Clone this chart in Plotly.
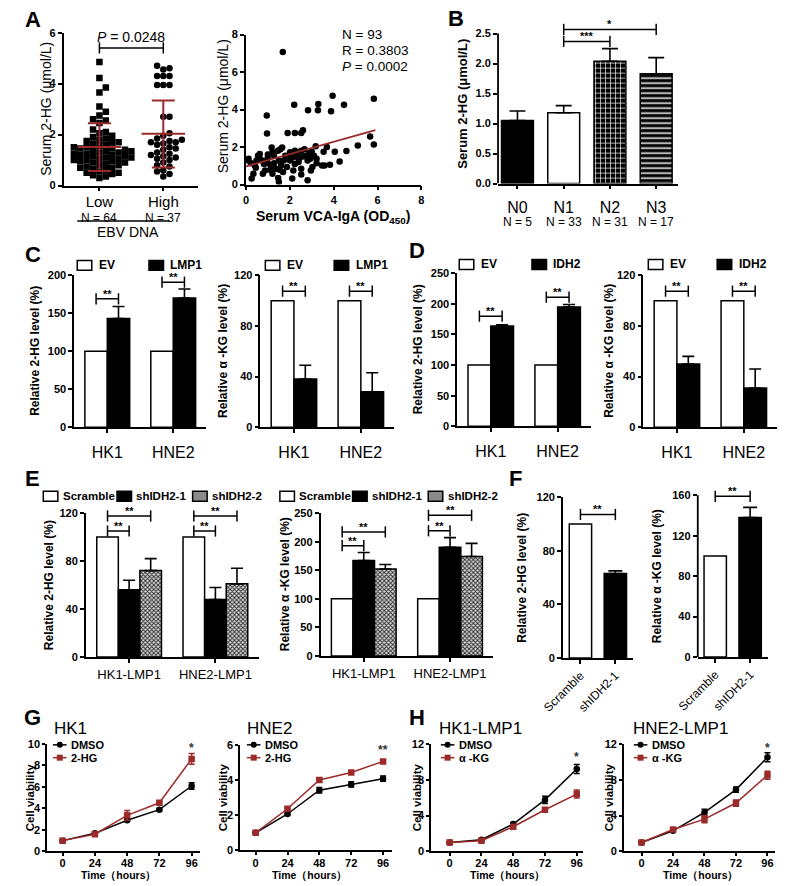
import numpy as np
import plotly.graph_objects as go

W, H = 789, 886
FONT = "Liberation Sans, Arial, sans-serif"
RED = "#9b2b2b"
AXW = 1.8

# ===================== DATA =====================
# A (left): serum 2-HG by EBV DNA level
ebv_groups = ["Low", "High"]
ebv_n_labels = ["N = 64", "N = 37"]
ebv_low = [4.85, 4.22, 3.85, 3.65, 3.10, 2.90, 2.75, 2.60, 2.55, 2.45,
           2.20, 2.10, 2.05, 1.95, 1.90, 1.85, 1.80, 1.75, 1.70, 1.70,
           1.65, 1.60, 1.55, 1.50, 1.50, 1.45, 1.45, 1.40, 1.40, 1.35,
           1.35, 1.30, 1.30, 1.25, 1.25, 1.20, 1.20, 1.15, 1.15, 1.10,
           1.10, 1.05, 1.05, 1.00, 1.00, 0.95, 0.95, 0.90, 0.90, 0.85,
           0.80, 0.80, 0.75, 0.70, 0.70, 0.65, 0.60, 0.55, 0.50, 0.50,
           0.45, 0.40, 0.35, 0.30]
ebv_high = [4.70, 4.60, 4.55, 4.30, 4.30, 4.30, 3.95, 3.95, 3.95, 2.70,
            2.70, 2.05, 1.95, 1.85, 1.80, 1.75, 1.70, 1.70, 1.65, 1.60,
            1.50, 1.45, 1.40, 1.30, 1.25, 1.20, 1.15, 1.10, 1.05, 1.00,
            0.90, 0.80, 0.75, 0.60, 0.55, 0.45, 0.35]
ebv_mean = [1.51, 2.03]
ebv_sd_lo = [0.57, 0.71]
ebv_sd_hi = [2.44, 3.34]
ebv_p = "0.0248"
ebv_bracket_y = 5.4

# A (right): serum 2-HG vs VCA-IgA
vca_x = [1.68, 5.83, 3.95, 2.20, 3.30, 4.47, 2.83, 3.28, 3.88, 0.95,
         0.96, 1.90, 2.23, 2.52, 2.60, 5.66, 5.83, 5.10, 4.58, 4.05,
         3.69, 3.54, 3.18, 3.00, 2.89, 2.67, 2.52, 2.23, 2.01, 1.65,
         1.57, 1.46, 1.17, 1.21, 0.63, 0.55, 0.12, 0.23, 0.41, 0.73,
         0.99, 0.99, 1.14, 1.28, 1.35, 1.50, 1.60, 1.72, 1.87, 2.01,
         2.16, 2.33, 2.42, 2.60, 2.23, 2.16, 2.52, 1.87, 1.69, 1.53,
         1.21, 0.87, 0.77, 0.34, 0.26, 1.47, 1.50, 2.11, 2.52, 2.81,
         2.96, 3.03, 3.22, 3.22, 3.47, 3.58, 3.83, 4.27, 2.81, 2.93,
         2.74, 3.10, 0.09, 0.63, 0.48, 1.28, 1.79, 1.94, 0.82, 1.11,
         2.40, 1.00, 0.45]
vca_y = [7.07, 4.58, 4.74, 4.26, 4.30, 4.26, 3.96, 3.96, 3.91, 3.68,
         2.72, 2.75, 2.75, 2.75, 2.90, 2.56, 2.14, 2.09, 1.79, 1.75,
         2.00, 1.75, 2.04, 1.75, 1.67, 1.89, 1.81, 1.81, 1.72, 1.98,
         1.89, 1.81, 1.98, 1.72, 1.63, 1.54, 1.37, 1.14, 1.02, 1.28,
         1.40, 1.14, 1.02, 1.14, 0.84, 1.28, 1.02, 1.28, 1.37, 1.28,
         1.46, 1.63, 1.37, 1.49, 1.10, 0.75, 0.84, 0.93, 0.67, 0.79,
         0.58, 0.75, 0.58, 0.58, 0.32, 0.35, 0.14, 0.32, 0.54, 0.23,
         0.75, 0.93, 1.37, 1.14, 1.02, 1.02, 1.05, 1.23, 1.28, 1.37,
         1.54, 1.54, 1.28, 1.37, 1.28, 1.54, 1.54, 1.46, 1.10, 0.79,
         1.20, 1.60, 0.90]
vca_fit_x = [0.0, 5.9]
vca_fit_y = [0.97, 2.90]
vca_stats = ["N = 93", "R = 0.3803", "<i>P</i> = 0.0002"]

# B: serum 2-HG by N stage
stage_cats = ["N0", "N1", "N2", "N3"]
stage_n = ["N = 5", "N = 33", "N = 31", "N = 17"]
stage_mean = [1.05, 1.18, 2.04, 1.83]
stage_err = [0.16, 0.12, 0.21, 0.27]
stage_brackets = [(1, 2, 2.37, "***"), (1, 3, 2.57, "*")]

# C / D
cells = ["HK1", "HNE2"]
c_2hg_ev = [100, 100]
c_2hg_lmp1 = [143, 170]
c_2hg_lmp1_err = [16, 12]
c_2hg_br = [169, 191]
c_akg_ev = [100, 100]
c_akg_lmp1 = [38, 28]
c_akg_lmp1_err = [11, 15]
c_akg_br = [107.5, 107.5]

d_2hg_ev = [100, 100]
d_2hg_idh2 = [164, 195]
d_2hg_idh2_err = [2, 4]
d_2hg_br = [180, 211]
d_akg_ev = [100, 100]
d_akg_idh2 = [50, 31]
d_akg_idh2_err = [6, 15]
d_akg_br = [107.5, 107.5]

# E
e_cells = ["HK1-LMP1", "HNE2-LMP1"]
e_groups = ["Scramble", "shIDH2-1", "shIDH2-2"]
e_2hg_scr = [100, 100]
e_2hg_sh1 = [56, 48]
e_2hg_sh1_err = [8, 10]
e_2hg_sh2 = [72, 61]
e_2hg_sh2_err = [10, 13]
e_2hg_br1 = [105, 105]
e_2hg_br2 = [117.5, 117.5]
e_akg_scr = [100, 100]
e_akg_sh1 = [167, 190]
e_akg_sh1_err = [14, 17]
e_akg_sh2 = [152, 174]
e_akg_sh2_err = [8, 23]
e_akg_br1 = [193, 219]
e_akg_br2 = [217, 246]

# F
f_groups = ["Scramble", "shIDH2-1"]
f_2hg = [100, 63]
f_2hg_err = [0, 2]
f_2hg_br = 107
f_akg = [100, 138]
f_akg_err = [0, 10]
f_akg_br = 159

# G / H
hours = [0, 24, 48, 72, 96]
g1_dmso = [1.0, 1.68, 2.90, 3.88, 6.08]
g1_dmso_err = [0.05, 0.10, 0.12, 0.12, 0.30]
g1_2hg = [1.0, 1.60, 3.35, 4.52, 8.60]
g1_2hg_err = [0.05, 0.10, 0.45, 0.12, 0.50]
g1_star = (96, 9.6, "*")
g2_dmso = [1.0, 2.07, 3.42, 3.75, 4.08]
g2_dmso_err = [0.03, 0.05, 0.15, 0.15, 0.15]
g2_2hg = [1.0, 2.37, 4.00, 4.43, 5.06]
g2_2hg_err = [0.03, 0.05, 0.10, 0.05, 0.08]
g2_star = (96, 5.7, "**")
h1_dmso = [1.0, 1.30, 3.05, 5.75, 9.20]
h1_dmso_err = [0.05, 0.10, 0.15, 0.40, 0.50]
h1_akg = [1.0, 1.20, 2.75, 4.65, 6.40]
h1_akg_err = [0.05, 0.10, 0.15, 0.15, 0.45]
h1_star = (96, 10.5, "*")
h2_dmso = [1.0, 2.30, 4.35, 6.90, 10.50]
h2_dmso_err = [0.05, 0.15, 0.35, 0.30, 0.50]
h2_akg = [1.0, 2.45, 3.60, 5.40, 8.50]
h2_akg_err = [0.05, 0.20, 0.40, 0.35, 0.45]
h2_star = (96, 11.5, "*")

# ===================== FIGURE =====================
fig = go.Figure()
layout_axes = {}
shapes = []
annotations = []

TICKB = dict(family=FONT, size=11, color="black", weight="bold")


def ids(i):
    return ("x" if i == 1 else f"x{i}", "y" if i == 1 else f"y{i}",
            "xaxis" if i == 1 else f"xaxis{i}", "yaxis" if i == 1 else f"yaxis{i}")


def make_axes(i, xdom, xrange, ybot, ppu, yrange, ytickvals, ytop,
              xtickvals=None, xticktext=None, xtickfont=None, xtickangle=None,
              xstandoff=None, yformat=None, ticklen=4):
    xid, yid, xk, yk = ids(i)
    ytop_px = ybot - yrange[1] * ppu
    xa = dict(domain=[xdom[0] / W, xdom[1] / W], range=xrange, anchor=yid,
              showline=True, linecolor="black", linewidth=AXW, ticks="outside",
              ticklen=ticklen, tickwidth=1.5, tickcolor="black", showgrid=False,
              zeroline=False, tickfont=xtickfont or TICKB, fixedrange=True)
    if xtickvals is not None:
        xa["tickvals"] = xtickvals
    if xticktext is not None:
        xa["ticktext"] = xticktext
    if xtickangle is not None:
        xa["tickangle"] = xtickangle
    if xstandoff is not None:
        xa["ticklabelstandoff"] = xstandoff
    ya = dict(domain=[1 - ybot / H, 1 - ytop_px / H], range=yrange, anchor=xid,
              showline=(yrange[1] <= ytop), linecolor="black", linewidth=AXW,
              ticks="outside", ticklen=ticklen, tickwidth=1.5, tickcolor="black",
              showgrid=False, zeroline=False, tickfont=TICKB, tickvals=ytickvals,
              fixedrange=True)
    if yformat:
        ya["tickformat"] = yformat
    layout_axes[xk] = xa
    layout_axes[yk] = ya
    if yrange[1] > ytop:
        shapes.append(dict(type="line", xref=f"{xid} domain", yref=yid, x0=0, x1=0,
                           y0=0, y1=ytop, line=dict(color="black", width=AXW)))
    return xid, yid


def style_marker(style):
    line = dict(color="black", width=1.5)
    if style == "white":
        return dict(color="white", line=line)
    if style == "black":
        return dict(color="black", line=line)
    if style == "grid":
        return dict(color="black", line=line,
                    pattern=dict(shape="+", fillmode="replace", bgcolor="black",
                                 fgcolor="white", size=5, solidity=0.25))
    if style == "stripe":
        return dict(color="black", line=line,
                    pattern=dict(shape="-", fillmode="replace", bgcolor="black",
                                 fgcolor="white", size=5, solidity=0.3))
    return dict(color="#8a8a8a", line=line,
                pattern=dict(shape="x", fillmode="replace", bgcolor="#d8d8d8",
                             fgcolor="#2a2a2a", size=3, solidity=0.5))


def bars(xid, yid, xs, values, errs, width, offset, style, cap=6):
    err = None
    if errs is not None:
        err = dict(type="data", array=[e if e else None for e in errs],
                   arrayminus=[0] * len(values), symmetric=False, color="black",
                   thickness=1.6, width=cap, visible=True)
    fig.add_trace(go.Bar(x=xs, y=values, width=width, offset=offset, xaxis=xid,
                         yaxis=yid, marker=style_marker(style), error_y=err,
                         showlegend=False, hoverinfo="skip"))


def bracket(xid, yid, x1, x2, y, text, size=12):
    fig.add_trace(go.Scatter(x=[x1, x2], y=[y, y], xaxis=xid, yaxis=yid,
                             mode="lines+markers", line=dict(color="black", width=1.5),
                             marker=dict(symbol="line-ns", size=8, color="black",
                                         line=dict(color="black", width=1.5)),
                             showlegend=False, hoverinfo="skip", cliponaxis=False))
    annotations.append(dict(xref=xid, yref=yid, x=(x1 + x2) / 2, y=y, text=f"<b>{text}</b>",
                            showarrow=False, yanchor="bottom", yshift=-3,
                            font=dict(family=FONT, size=size, color="black")))


def text(t, xpx, ypx, size, bold=False, xanchor="center", yanchor="middle", angle=0):
    if bold:
        t = f"<b>{t}</b>"
    annotations.append(dict(xref="paper", yref="paper", x=xpx / W, y=1 - ypx / H, text=t,
                            showarrow=False, xanchor=xanchor, yanchor=yanchor,
                            textangle=angle, borderpad=0,
                            font=dict(family=FONT, size=size, color="black")))


def legend_box(xpx, ypx, style, label, size=12, gap=6):
    fill = {"white": "white", "black": "black"}.get(style, "#8a8a8a")
    shapes.append(dict(type="rect", xref="paper", yref="paper", x0=xpx / W, x1=(xpx + 15) / W,
                       y0=1 - (ypx + 5) / H, y1=1 - (ypx - 5) / H, fillcolor=fill,
                       line=dict(color="black", width=1.5)))
    text(label, xpx + 15 + gap, ypx, size, bold=True, xanchor="left")


def legend_line(xpx, ypx, color, symbol, label):
    shapes.append(dict(type="line", xref="paper", yref="paper", x0=xpx / W, x1=(xpx + 14) / W,
                       y0=1 - ypx / H, y1=1 - ypx / H, line=dict(color=color, width=1.5)))
    shapes.append(dict(type="circle" if symbol == "circle" else "rect", xref="paper",
                       yref="paper", xsizemode="pixel", ysizemode="pixel",
                       xanchor=(xpx + 7) / W, yanchor=1 - ypx / H, x0=-3, x1=3, y0=-3, y1=3,
                       fillcolor=color, line=dict(color=color, width=0)))
    text(label, xpx + 18, ypx, 11, bold=True, xanchor="left")


def swarm(values, ppx, ppy, d):
    placed = []
    xs = [0.0] * len(values)
    for idx in np.argsort(values):
        y = values[idx] * ppy
        pos = None
        k = 0
        while pos is None:
            for s in ([0] if k == 0 else [k, -k]):
                xo = s * d * 0.5
                if all((xo - px) ** 2 + (y - py) ** 2 >= d * d * 0.95 for px, py in placed):
                    pos = xo
                    break
            k += 1
        placed.append((pos, y))
        xs[idx] = pos / ppx
    return xs


# ---------- A left: dot plot ----------
xid, yid = make_axes(1, (44, 183), [-0.56, 1.55], 182, 25.83, [0, 6], [0, 2, 4, 6], 6,
                     xtickvals=[0, 1], xticktext=ebv_groups,
                     xtickfont=dict(family=FONT, size=15, color="black"), xstandoff=-2)
lx = swarm(ebv_low, 66, 25.83, 6.6)
hx = swarm(ebv_high, 66, 25.83, 6.4)
fig.add_trace(go.Scatter(x=[0 + v for v in lx], y=ebv_low, xaxis=xid, yaxis=yid, mode="markers",
                         marker=dict(symbol="square", size=6.5, color="black"),
                         showlegend=False, hoverinfo="skip"))
fig.add_trace(go.Scatter(x=[1 + v for v in hx], y=ebv_high, xaxis=xid, yaxis=yid, mode="markers",
                         marker=dict(symbol="circle", size=6.5, color="black"),
                         showlegend=False, hoverinfo="skip"))
mx, my = [], []
for g in range(2):
    mx += [g - 0.34, g + 0.34, None, g - 0.18, g + 0.18, None, g - 0.18, g + 0.18, None, g, g, None]
    my += [ebv_mean[g], ebv_mean[g], None, ebv_sd_hi[g], ebv_sd_hi[g], None,
           ebv_sd_lo[g], ebv_sd_lo[g], None, ebv_sd_lo[g], ebv_sd_hi[g], None]
fig.add_trace(go.Scatter(x=mx, y=my, xaxis=xid, yaxis=yid, mode="lines",
                         line=dict(color=RED, width=2), showlegend=False, hoverinfo="skip"))
fig.add_trace(go.Scatter(x=[0, 1], y=[ebv_bracket_y] * 2, xaxis=xid, yaxis=yid,
                         mode="lines+markers", line=dict(color="black", width=1.5),
                         marker=dict(symbol="line-ns", size=8, color="black",
                                     line=dict(color="black", width=1.5)),
                         showlegend=False, hoverinfo="skip"))
annotations.append(dict(xref=xid, yref=yid, x=0.5, y=ebv_bracket_y, yanchor="bottom", yshift=1,
                        text=f"<i>P</i> = {ebv_p}", showarrow=False,
                        font=dict(family=FONT, size=14, color="black")))
for g in range(2):
    annotations.append(dict(xref=xid, yref="paper", x=g, y=1 - 207 / H, text=ebv_n_labels[g],
                            showarrow=False, borderpad=0,
                            font=dict(family=FONT, size=12, color="black")))
shapes.append(dict(type="line", xref="paper", yref="paper", x0=58 / W, x1=153 / W,
                   y0=1 - 218 / H, y1=1 - 218 / H, line=dict(color="black", width=1.5)))
text("EBV DNA", 110, 229, 14)
text("Serum 2-HG (μmol/L)", 25, 104, 14, angle=-90)
text("A", 12, 14, 22, bold=True)

# ---------- A right: scatter ----------
xid, yid = make_axes(2, (232, 413), [0, 8], 181, 19, [0, 8], [0, 2, 4, 6, 8], 8,
                     xtickvals=[0, 2, 4, 6, 8])
fig.add_trace(go.Scatter(x=vca_x, y=vca_y, xaxis=xid, yaxis=yid, mode="markers",
                         marker=dict(size=6.5, color="black"), showlegend=False,
                         hoverinfo="skip"))
fig.add_trace(go.Scatter(x=vca_fit_x, y=vca_fit_y, xaxis=xid, yaxis=yid, mode="lines",
                         line=dict(color=RED, width=1.8), showlegend=False, hoverinfo="skip"))
for k, s in enumerate(vca_stats):
    text(s, 330, 29 + 16 * k, 13.5, xanchor="left")
text("Serum 2-HG (μmol/L)", 208, 102, 14, angle=-90)
text("Serum VCA-IgA (OD<sub>450</sub>)", 322, 214, 14, bold=True)

# ---------- B ----------
xid, yid = make_axes(3, (492, 678), [-0.42, 3.48], 180, 60.8, [0, 2.8],
                     [0, 0.5, 1.0, 1.5, 2.0, 2.5], 2.5, xtickvals=[0, 1, 2, 3],
                     xticktext=stage_cats, xtickfont=dict(family=FONT, size=16, color="black"),
                     xstandoff=4, yformat=".1f")
for k, st in enumerate(["black", "white", "grid", "stripe"]):
    bars(xid, yid, [k], [stage_mean[k]], [stage_err[k]], 0.69, -0.345, st, cap=8)
for a, b, yv, t in stage_brackets:
    bracket(xid, yid, a, b, yv, t, size=11)
for k in range(4):
    annotations.append(dict(xref=xid, yref="paper", x=k, y=1 - 211 / H, text=stage_n[k],
                            showarrow=False, borderpad=0,
                            font=dict(family=FONT, size=12, color="black")))
text("Serum 2-HG (μmol/L)", 456, 99, 13, bold=True, angle=-90)
text("B", 449, 13, 22, bold=True)

CATFONT = dict(family=FONT, size=16, color="black")


def two_group_panel(i, xdom, ybot, ppu, yrange, ytickvals, ytop, ev, trt, trt_err, br,
                    ytitle, tx, lgx, lgy, trt_name):
    xid, yid = make_axes(i, xdom, [-0.5, 1.5], ybot, ppu, yrange, ytickvals, ytop,
                         xtickvals=[0, 1], xticktext=cells, xtickfont=CATFONT, xstandoff=6)
    bars(xid, yid, [0, 1], ev, None, 0.34, -0.34, "white")
    bars(xid, yid, [0, 1], trt, trt_err, 0.34, 0.0, "black", cap=6)
    for k in range(2):
        bracket(xid, yid, k - 0.17, k + 0.17, br[k], "**", size=11)
    text(ytitle, tx, (ybot + ybot - ytop * ppu) / 2, 12, bold=True, angle=-90)
    legend_box(lgx[0], lgy, "white", "EV")
    legend_box(lgx[1], lgy, "black", trt_name)


T2HG = "Relative 2-HG level (%)"
TAKG = "Relative α -KG level (%)"
two_group_panel(4, (55, 191), 427, 0.77, [0, 200], [0, 50, 100, 150, 200], 200,
                c_2hg_ev, c_2hg_lmp1, c_2hg_lmp1_err, c_2hg_br, T2HG, 15, (58, 132), 263, "LMP1")
two_group_panel(5, (247, 385), 427, 1.283, [0, 120], [0, 40, 80, 120], 120,
                c_akg_ev, c_akg_lmp1, c_akg_lmp1_err, c_akg_br, TAKG, 209, (252, 323), 263, "LMP1")
two_group_panel(6, (450, 588), 426, 0.62, [0, 250], [0, 50, 100, 150, 200, 250], 250,
                d_2hg_ev, d_2hg_idh2, d_2hg_idh2_err, d_2hg_br, T2HG, 409, (452, 527), 262, "IDH2")
two_group_panel(7, (642, 780), 427, 1.283, [0, 120], [0, 40, 80, 120], 120,
                d_akg_ev, d_akg_idh2, d_akg_idh2_err, d_akg_br, TAKG, 607, (647, 718), 262, "IDH2")
text("C", 12, 252, 22, bold=True)
text("D", 408, 248, 22, bold=True)


def three_group_panel(i, xdom, ybot, ppu, yrange, ytickvals, ytop, scr, sh1, sh1e, sh2, sh2e,
                      br1, br2, ytitle, tx, lgx, lgy):
    xid, yid = make_axes(i, xdom, [-0.5, 1.5], ybot, ppu, yrange, ytickvals, ytop,
                         xtickvals=[0, 1], xticktext=e_cells,
                         xtickfont=dict(family=FONT, size=13, color="black"))
    bars(xid, yid, [0, 1], scr, None, 0.25, -0.375, "white")
    bars(xid, yid, [0, 1], sh1, sh1e, 0.25, -0.125, "black", cap=6)
    bars(xid, yid, [0, 1], sh2, sh2e, 0.25, 0.125, "dots", cap=6)
    for k in range(2):
        bracket(xid, yid, k - 0.25, k, br1[k], "**", size=11)
        bracket(xid, yid, k - 0.25, k + 0.25, br2[k], "**", size=11)
    text(ytitle, tx, (ybot + ybot - ytop * ppu) / 2, 12, bold=True, angle=-90)
    for k, st in enumerate(["white", "black", "dots"]):
        legend_box(lgx[k], lgy, st, e_groups[k], size=11.5, gap=4)


three_group_panel(8, (67, 245), 660, 1.217, [0, 120], [0, 40, 80, 120], 120,
                  e_2hg_scr, e_2hg_sh1, e_2hg_sh1_err, e_2hg_sh2, e_2hg_sh2_err,
                  e_2hg_br1, e_2hg_br2, T2HG, 29, (23, 99, 177), 497)
three_group_panel(9, (309, 487), 659, 0.58, [0, 250], [0, 50, 100, 150, 200, 250], 250,
                  e_akg_scr, e_akg_sh1, e_akg_sh1_err, e_akg_sh2, e_akg_sh2_err,
                  e_akg_br1, e_akg_br2, TAKG, 272, (267, 342, 420), 497)
text("E", 12, 479, 22, bold=True)


def f_panel(i, xdom, ybot, ppu, yrange, ytickvals, ytop, vals, errs, br, ytitle, tx):
    xid, yid = make_axes(i, xdom, [-0.5, 1.5], ybot, ppu, yrange, ytickvals, ytop,
                         xtickvals=[0, 1], xticktext=f_groups,
                         xtickfont=dict(family=FONT, size=12, color="black"), xtickangle=-45)
    bars(xid, yid, [0], [vals[0]], None, 0.64, -0.32, "white")
    bars(xid, yid, [1], [vals[1]], [errs[1]], 0.64, -0.32, "black", cap=7)
    bracket(xid, yid, 0, 1, br, "**", size=11)
    text(ytitle, tx, (ybot + ybot - ytop * ppu) / 2, 12, bold=True, angle=-90)


f_panel(10, (559, 631), 661, 1.36, [0, 120], [0, 40, 80, 120], 120, f_2hg, f_2hg_err,
        f_2hg_br, T2HG, 516)
f_panel(11, (698, 770), 660, 1.025, [0, 168], [0, 40, 80, 120, 160], 160, f_akg, f_akg_err,
        f_akg_br, TAKG, 656)
text("F", 510, 479, 22, bold=True)


def line_panel(i, xdom, xrange, ybot, ppu, yrange, ytickvals, d, de, t, te, tname, star, title,
               title_x, lgx, ytx, ttx):
    xid, yid = make_axes(i, xdom, xrange, ybot, ppu, yrange, ytickvals, yrange[1],
                         xtickvals=hours, xstandoff=-2, ticklen=3)
    fig.add_trace(go.Scatter(x=hours, y=d, xaxis=xid, yaxis=yid, mode="lines+markers",
                             line=dict(color="black", width=1.5),
                             marker=dict(symbol="circle", size=6.5, color="black"),
                             error_y=dict(type="data", array=de, color="black", thickness=1.5,
                                          width=3),
                             showlegend=False, hoverinfo="skip"))
    fig.add_trace(go.Scatter(x=hours, y=t, xaxis=xid, yaxis=yid, mode="lines+markers",
                             line=dict(color=RED, width=1.5),
                             marker=dict(symbol="square", size=6.5, color=RED),
                             error_y=dict(type="data", array=te, color=RED, thickness=1.5,
                                          width=3),
                             showlegend=False, hoverinfo="skip"))
    annotations.append(dict(xref=xid, yref=yid, x=star[0], y=star[1], text=f"<b>{star[2]}</b>",
                            showarrow=False, font=dict(family=FONT, size=12, color="#333")))
    text(title, title_x, 732, 17, xanchor="left")
    legend_line(lgx, 749, "black", "circle", "DMSO")
    legend_line(lgx, 762, RED, "square", tname)
    text("Cell viability", ytx, (ybot + ybot - yrange[1] * ppu) / 2, 11.5, bold=True, angle=-90)
    text("Time（hours）", ttx, 881, 10.5, bold=True)


line_panel(12, (27, 185), [-11.5, 102.5], 857, 10.9, [0, 10], [0, 2, 4, 6, 8, 10],
           g1_dmso, g1_dmso_err, g1_2hg, g1_2hg_err, "2-HG", g1_star, "HK1", 33, 33, 9, 101)
line_panel(13, (226, 383), [-11.7, 103], 856, 17.83, [0, 6], [0, 2, 4, 6],
           g2_dmso, g2_dmso_err, g2_2hg, g2_2hg_err, "2-HG", g2_star, "HNE2", 232, 233, 208, 298)
line_panel(14, (423, 580), [-14, 101], 857, 9.08, [0, 12], [0, 4, 8, 12],
           h1_dmso, h1_dmso_err, h1_akg, h1_akg_err, "α -KG", h1_star, "HK1-LMP1", 430, 433,
           408, 502)
line_panel(15, (622, 778), [-13.3, 102], 857, 9.08, [0, 12], [0, 4, 8, 12],
           h2_dmso, h2_dmso_err, h2_akg, h2_akg_err, "α -KG", h2_star, "HNE2-LMP1", 630, 632,
           606, 701)
text("G", 12, 721, 22, bold=True)
text("H", 408, 721, 22, bold=True)

fig.update_layout(width=W, height=H, margin=dict(l=0, r=0, t=0, b=0), paper_bgcolor="white",
                  plot_bgcolor="white", showlegend=False, barmode="overlay",
                  font=dict(family=FONT, color="black"), shapes=shapes,
                  annotations=annotations, **layout_axes)

fig.write_html("out.html", include_plotlyjs=True, config={"displayModeBar": False},
               post_script="document.body.style.margin='0px';")
